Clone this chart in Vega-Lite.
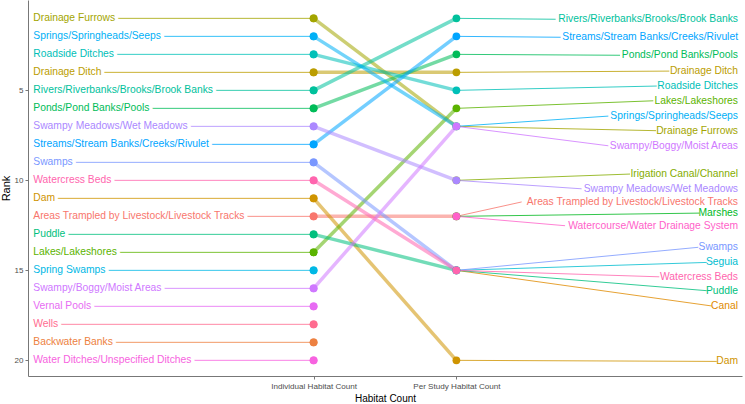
{
  "$schema": "https://vega.github.io/schema/vega-lite/v6.json",
  "width": 714,
  "height": 376,
  "autosize": {"type": "none"},
  "padding": {"left": 28, "top": 0, "right": 3, "bottom": 28},
  "background": "white",
  "config": {
    "font": "Liberation Sans",
    "view": {"stroke": null},
    "axis": {"grid": false, "domainColor": "#777777", "tickColor": "#777777", "tickSize": 3, "labelColor": "#4D4D4D", "labelFont": "Liberation Sans", "titleFont": "Liberation Sans", "titleFontWeight": "normal", "titleColor": "#000000"}
  },
  "data": {
    "values": [
      {"habitat": "Areas Trampled by Livestock/Livestock Tracks", "individual": 12, "perStudy": 12, "labelX": 2.457, "labelRank": 11.2},
      {"habitat": "Backwater Banks", "individual": 19, "perStudy": null, "labelX": null, "labelRank": null},
      {"habitat": "Canal", "individual": null, "perStudy": 15, "labelX": 3.788, "labelRank": 16.98},
      {"habitat": "Dam", "individual": 11, "perStudy": 20, "labelX": 3.823, "labelRank": 20.06},
      {"habitat": "Drainage Ditch", "individual": 4, "perStudy": 4, "labelX": 3.491, "labelRank": 3.93},
      {"habitat": "Drainage Furrows", "individual": 1, "perStudy": 7, "labelX": 3.398, "labelRank": 7.24},
      {"habitat": "Irigation Canal/Channel", "individual": null, "perStudy": 10, "labelX": 3.216, "labelRank": 9.65},
      {"habitat": "Lakes/Lakeshores", "individual": 14, "perStudy": 6, "labelX": 3.379, "labelRank": 5.58},
      {"habitat": "Marshes", "individual": null, "perStudy": 12, "labelX": 3.701, "labelRank": 11.82},
      {"habitat": "Ponds/Pond Banks/Pools", "individual": 6, "perStudy": 3, "labelX": 3.146, "labelRank": 3.05},
      {"habitat": "Puddle", "individual": 13, "perStudy": 15, "labelX": 3.753, "labelRank": 16.13},
      {"habitat": "Rivers/Riverbanks/Brooks/Brook Banks", "individual": 5, "perStudy": 1, "labelX": 2.695, "labelRank": 1.05},
      {"habitat": "Roadside Ditches", "individual": 3, "perStudy": 5, "labelX": 3.403, "labelRank": 4.76},
      {"habitat": "Seguia", "individual": null, "perStudy": 15, "labelX": 3.753, "labelRank": 14.56},
      {"habitat": "Spring Swamps", "individual": 15, "perStudy": null, "labelX": null, "labelRank": null},
      {"habitat": "Springs/Springheads/Seeps", "individual": 2, "perStudy": 7, "labelX": 3.064, "labelRank": 6.43},
      {"habitat": "Streams/Stream Banks/Creeks/Rivulet", "individual": 8, "perStudy": 2, "labelX": 2.730, "labelRank": 2.05},
      {"habitat": "Swamps", "individual": 9, "perStudy": 15, "labelX": 3.694, "labelRank": 13.72},
      {"habitat": "Swampy Meadows/Wet Meadows", "individual": 7, "perStudy": 10, "labelX": 2.877, "labelRank": 10.47},
      {"habitat": "Swampy/Boggy/Moist Areas", "individual": 16, "perStudy": 7, "labelX": 3.064, "labelRank": 8.08},
      {"habitat": "Vernal Pools", "individual": 17, "perStudy": null, "labelX": null, "labelRank": null},
      {"habitat": "Water Ditches/Unspecified Ditches", "individual": 20, "perStudy": null, "labelX": null, "labelRank": null},
      {"habitat": "Watercourse/Water Drainage System", "individual": null, "perStudy": 12, "labelX": 2.761, "labelRank": 12.52},
      {"habitat": "Watercress Beds", "individual": 10, "perStudy": 15, "labelX": 3.421, "labelRank": 15.36},
      {"habitat": "Wells", "individual": 18, "perStudy": null, "labelX": null, "labelRank": null}
    ]
  },
  "encoding": {
    "color": {
      "field": "habitat",
      "type": "nominal",
      "legend": null,
      "scale": {
        "domain": ["Areas Trampled by Livestock/Livestock Tracks", "Backwater Banks", "Canal", "Dam", "Drainage Ditch", "Drainage Furrows", "Irigation Canal/Channel", "Lakes/Lakeshores", "Marshes", "Ponds/Pond Banks/Pools", "Puddle", "Rivers/Riverbanks/Brooks/Brook Banks", "Roadside Ditches", "Seguia", "Spring Swamps", "Springs/Springheads/Seeps", "Streams/Stream Banks/Creeks/Rivulet", "Swamps", "Swampy Meadows/Wet Meadows", "Swampy/Boggy/Moist Areas", "Vernal Pools", "Water Ditches/Unspecified Ditches", "Watercourse/Water Drainage System", "Watercress Beds", "Wells"],
        "range": ["#F8766D", "#ED8141", "#E08B00", "#CF9400", "#BB9D00", "#A3A500", "#85AD00", "#5BB300", "#00B81F", "#00BC59", "#00BF7D", "#00C19C", "#00C0B8", "#00BDD0", "#00B8E5", "#00B0F6", "#00A5FF", "#7997FF", "#AB88FF", "#CF78FF", "#E76BF3", "#F763E0", "#FF61C9", "#FF65AE", "#FF6C90"]
      }
    }
  },
  "layer": [
    {
      "transform": [{"filter": "isValid(datum.individual)"}],
      "mark": {"type": "circle", "size": 60, "opacity": 1},
      "encoding": {
        "x": {"datum": 1, "type": "quantitative", "scale": {"domain": [-1, 4], "nice": false, "zero": false},
          "axis": {"values": [1, 2], "title": "Habitat Count", "titleFontSize": 10, "titlePadding": 3, "labelFontSize": 8.1, "labelPadding": 3,
            "labelExpr": "datum.value == 1 ? 'Individual Habitat Count' : 'Per Study Habitat Count'"}},
        "y": {"field": "individual", "type": "quantitative", "scale": {"domain": [-0.02, 20.87], "reverse": true, "nice": false, "zero": false},
          "axis": {"values": [5, 10, 15, 20], "title": "Rank", "titleFontSize": 11, "labelFontSize": 8, "labelPadding": 2, "titlePadding": 3}}
      }
    },
    {
      "transform": [{"filter": "isValid(datum.individual) && isValid(datum.perStudy)"}],
      "mark": {"type": "rule", "strokeWidth": 3.5, "opacity": 0.55},
      "encoding": {
        "x": {"datum": 1, "type": "quantitative"},
        "x2": {"datum": 2},
        "y": {"field": "individual", "type": "quantitative"},
        "y2": {"field": "perStudy"}
      }
    },
    {
      "transform": [{"filter": "isValid(datum.individual)"}],
      "mark": {"type": "rule", "strokeWidth": 1, "opacity": 0.8},
      "encoding": {
        "x": {"datum": -0.97, "type": "quantitative"},
        "x2": {"datum": 1},
        "y": {"field": "individual", "type": "quantitative"}
      }
    },
    {
      "transform": [{"filter": "isValid(datum.perStudy)"}],
      "mark": {"type": "rule", "strokeWidth": 1, "opacity": 0.8},
      "encoding": {
        "x": {"field": "labelX", "type": "quantitative"},
        "x2": {"datum": 2},
        "y": {"field": "labelRank", "type": "quantitative"},
        "y2": {"field": "perStudy"}
      }
    },
    {
      "transform": [{"filter": "isValid(datum.individual)"}],
      "mark": {"type": "circle", "size": 60, "opacity": 1},
      "encoding": {
        "x": {"datum": 1, "type": "quantitative"},
        "y": {"field": "individual", "type": "quantitative"}
      }
    },
    {
      "transform": [{"filter": "isValid(datum.perStudy)"}],
      "mark": {"type": "circle", "size": 60, "opacity": 1},
      "encoding": {
        "x": {"datum": 2, "type": "quantitative"},
        "y": {"field": "perStudy", "type": "quantitative"}
      }
    },
    {
      "transform": [{"filter": "isValid(datum.individual)"}],
      "mark": {"type": "text", "align": "left", "baseline": "middle", "dx": 1, "fontSize": 10.3, "stroke": "white", "strokeWidth": 7, "strokeJoin": "round", "fill": "white"},
      "encoding": {
        "x": {"datum": -0.97, "type": "quantitative"},
        "y": {"field": "individual", "type": "quantitative"},
        "text": {"field": "habitat"},
        "color": {"value": "white"}
      }
    },
    {
      "transform": [{"filter": "isValid(datum.individual)"}],
      "mark": {"type": "text", "align": "left", "baseline": "middle", "dx": 1, "fontSize": 10.3},
      "encoding": {
        "x": {"datum": -0.97, "type": "quantitative"},
        "y": {"field": "individual", "type": "quantitative"},
        "text": {"field": "habitat"}
      }
    },
    {
      "transform": [{"filter": "isValid(datum.perStudy)"}],
      "mark": {"type": "text", "align": "right", "baseline": "middle", "dx": -4, "fontSize": 10.3},
      "encoding": {
        "x": {"datum": 4, "type": "quantitative"},
        "y": {"field": "labelRank", "type": "quantitative"},
        "text": {"field": "habitat"}
      }
    }
  ]
}
